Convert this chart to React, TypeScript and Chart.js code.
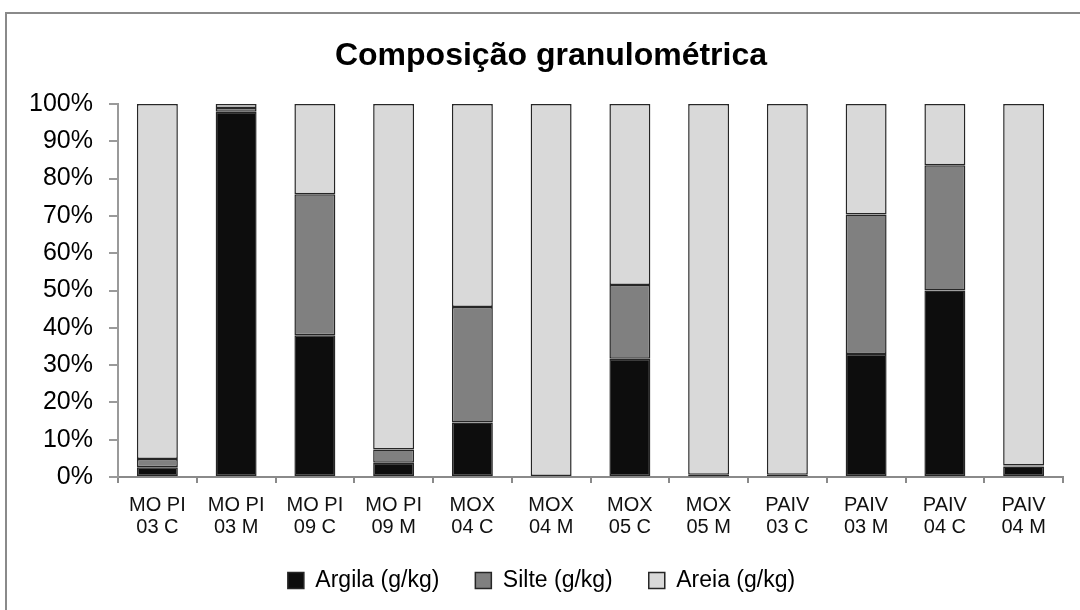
import React, { useEffect, useRef } from "react";
import { Chart, registerables } from "chart.js";

Chart.register(...registerables);

const categories: string[][] = [
  ["MO PI", "03 C"], ["MO PI", "03 M"], ["MO PI", "09 C"], ["MO PI", "09 M"],
  ["MOX", "04 C"], ["MOX", "04 M"], ["MOX", "05 C"], ["MOX", "05 M"],
  ["PAIV", "03 C"], ["PAIV", "03 M"], ["PAIV", "04 C"], ["PAIV", "04 M"],
];
const argila: (number | null)[] = [2.6, 97.9, 38, 3.8, 14.6, null, 31.7, 0.2, null, 33, 50, 2.8];
const silte: (number | null)[] = [2.2, 1.0, 37.8, 3.6, 31.0, null, 19.8, 0.4, 0.6, 37.4, 33.6, 0.3];
const areia: (number | null)[] = [95.2, 1.1, 24.2, 92.6, 54.4, 100, 48.5, 99.4, 99.4, 29.6, 16.4, 96.9];
const yTicks: number[] = [0, 10, 20, 30, 40, 50, 60, 70, 80, 90, 100];
const seriesNames = ["Argila (g/kg)", "Silte (g/kg)", "Areia (g/kg)"];
const chartTitle = "Composição granulométrica";

const FONT = "'Liberation Sans', Arial, sans-serif";

const titlePlugin = {
  id: "offsetTitle",
  afterDraw(chart: any) {
    const ctx = chart.ctx;
    ctx.save();
    ctx.font = `bold 32px ${FONT}`;
    ctx.fillStyle = "#000";
    ctx.textAlign = "center";
    ctx.textBaseline = "middle";
    ctx.fillText(chartTitle, 551, 56);
    ctx.restore();
  },
};

export default function App() {
  const ref = useRef<HTMLCanvasElement>(null);
  useEffect(() => {
    if (!ref.current) return;
    const common = { borderColor: "#262626", borderWidth: 1.5, borderSkipped: false as const };
    const chart = new Chart(ref.current, {
      type: "bar",
      data: {
        labels: categories,
        datasets: [
          { label: seriesNames[0], data: argila, backgroundColor: "#0d0d0d", ...common },
          { label: seriesNames[1], data: silte, backgroundColor: "#808080", ...common },
          { label: seriesNames[2], data: areia, backgroundColor: "#d9d9d9", ...common },
        ],
      },
      plugins: [titlePlugin],
      options: {
        responsive: false,
        animation: false,
        layout: { padding: { left: 20, right: 17, top: 104, bottom: 8 } },
        datasets: { bar: { categoryPercentage: 1, barPercentage: 0.52 } },
        plugins: {
          title: { display: false },
          legend: {
            position: "bottom",
            labels: {
              color: "#000",
              font: { family: FONT, size: 23 },
              boxWidth: 16,
              boxHeight: 16,
              padding: 36,
            },
          },
          tooltip: { enabled: false },
        },
        scales: {
          x: {
            stacked: true,
            afterFit: (s: any) => { s.height = 56; },
            grid: { display: true, drawOnChartArea: false, offset: true, tickLength: 6, color: "#8a8a8a", lineWidth: 2 },
            border: { display: true, color: "#8a8a8a", width: 2 },
            ticks: { color: "#111", font: { family: FONT, size: 20, lineHeight: 1.1 }, padding: 11, maxRotation: 0, autoSkip: false },
          },
          y: {
            stacked: true,
            min: 0,
            max: 100,
            afterFit: (s: any) => { s.width = 98; },
            afterBuildTicks: (s: any) => { s.ticks = yTicks.map((v) => ({ value: v })); },
            grid: { display: true, drawOnChartArea: false, tickLength: 9, color: "#9a9a9a", lineWidth: 2 },
            border: { display: true, color: "#9a9a9a", width: 2 },
            ticks: { color: "#000", font: { family: FONT, size: 25 }, padding: 16, callback: (v: any) => v + "%" },
          },
        },
      },
    });
    return () => chart.destroy();
  }, []);
  return (
    <div style={{ position: "absolute", left: 0, top: 0, width: 1080, height: 610, overflow: "hidden", background: "#fff" }}>
      <div style={{ position: "absolute", left: 5, top: 12, width: 1100, height: 700, borderLeft: "2px solid #8a8a8a", borderTop: "2px solid #8a8a8a" }} />
      <canvas ref={ref} width={1080} height={610} style={{ position: "absolute", left: 0, top: 0 }} />
    </div>
  );
}
